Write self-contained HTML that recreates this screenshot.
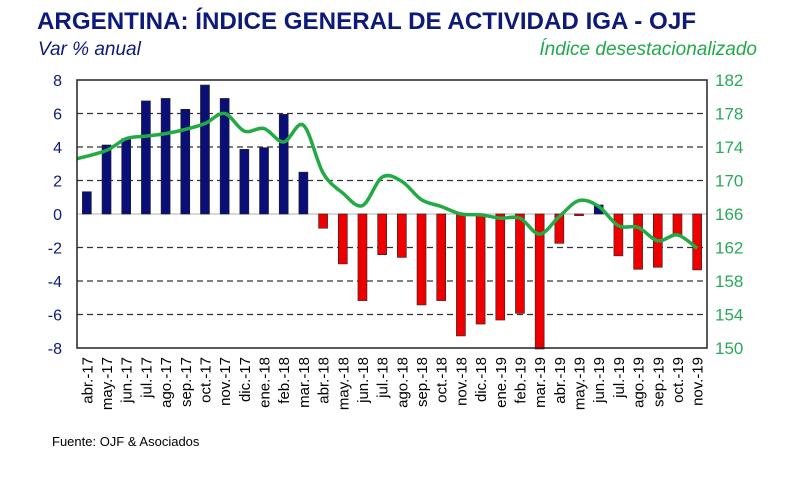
<!DOCTYPE html>
<html><head><meta charset="utf-8"><style>
body{margin:0;background:#fff;}
svg{display:block;font-family:"Liberation Sans",sans-serif;}
</style></head><body>
<svg width="800" height="479" viewBox="0 0 800 479" id="chart">
<text x="37" y="29" font-size="24" font-weight="bold" fill="#0d1a7a" textLength="659" lengthAdjust="spacingAndGlyphs">ARGENTINA: ÍNDICE GENERAL DE ACTIVIDAD IGA - OJF</text>
<text x="38" y="55" font-size="19" font-style="italic" fill="#0d1a7a">Var % anual</text>
<text x="757" y="55" font-size="19" font-style="italic" fill="#22aa4a" text-anchor="end">Índice desestacionalizado</text>
<text x="52" y="446" font-size="13" fill="#000">Fuente: OJF &amp; Asociados</text>
<g id="grid"></g><g id="bars"></g><g id="line"></g><g id="axes"></g>
</svg>
<script>
const categories=["abr.-17","may.-17","jun.-17","jul.-17","ago.-17","sep.-17","oct.-17","nov.-17","dic.-17","ene.-18","feb.-18","mar.-18","abr.-18","may.-18","jun.-18","jul.-18","ago.-18","sep.-18","oct.-18","nov.-18","dic.-18","ene.-19","feb.-19","mar.-19","abr.-19","may.-19","jun.-19","jul.-19","ago.-19","sep.-19","oct.-19","nov.-19"];
const varValues=[1.33,4.12,4.5,6.75,6.9,6.25,7.7,6.9,3.86,3.96,5.95,2.5,-0.85,-2.98,-5.17,-2.43,-2.59,-5.43,-5.17,-7.28,-6.57,-6.33,-5.93,-8.06,-1.75,-0.1,0.54,-2.5,-3.3,-3.18,-1.3,-3.34];
const indexValues=[172.6,173.6,175.0,175.3,175.6,176.1,176.8,178.0,175.9,176.2,174.6,176.6,170.9,168.5,167.0,170.4,169.9,167.7,166.9,166.0,165.9,165.5,165.5,163.6,165.7,167.6,166.9,164.6,164.4,162.8,163.5,161.9];
const leftTicks=[8,6,4,2,0,-2,-4,-6,-8];
const rightTicks=[182,178,174,170,166,162,158,154,150];
const NS="http://www.w3.org/2000/svg";
const L=77,R=707,T=80,B=348;
const n=categories.length,step=(R-L)/n;
const xC=i=>L+step*(i+0.5);
const yL=v=>T+(8-v)*(B-T)/16;
const yR=v=>T+(182-v)*(B-T)/32;
function mk(tag,attrs,parent){const e=document.createElementNS(NS,tag);for(const k in attrs)e.setAttribute(k,attrs[k]);parent.appendChild(e);return e;}
const grid=document.getElementById('grid'),bars=document.getElementById('bars'),line=document.getElementById('line'),axes=document.getElementById('axes');
leftTicks.forEach(t=>{
  if(t!==8&&t!==-8&&t!==0){const g=mk('line',{x1:L,x2:R,y1:yL(t),y2:yL(t),stroke:'#333','stroke-width':1.3,'stroke-dasharray':'6,4'},grid);
  
  }
  const tx=mk('text',{x:62,y:yL(t)+6,'font-size':16,'text-anchor':'end',fill:'#0d1a7a'},axes);tx.textContent=t;
  
  
});
const z=mk('line',{x1:L,x2:R,y1:yL(0),y2:yL(0),stroke:'#ccc','stroke-width':1.5},grid);


rightTicks.forEach(t=>{
  const tx=mk('text',{x:715,y:yR(t)+6,'font-size':17,fill:'#2aa85a'},axes);tx.textContent=t;
  
  
});
const fr=mk('rect',{x:L,y:T,width:R-L,height:B-T,fill:'none',stroke:'#222','stroke-width':1.5},axes);


const bw=9;
varValues.forEach((v,i)=>{
  const y0=yL(0),y1=yL(v);
  const r=mk('rect',{x:xC(i)-bw/2,y:Math.min(y0,y1),width:bw,height:Math.max(Math.abs(y1-y0),1),fill:v>=0?'#0a0f78':'#ee0000',stroke:'#222','stroke-width':0.6},bars);
  
  
  const tx=mk('text',{transform:`translate(${xC(i)+5.5},357) rotate(-90)`,'font-size':15,'text-anchor':'end',fill:'#000'},axes);
  tx.textContent=categories[i];
  
  
});
const pts=indexValues.map((v,i)=>[i===0?L:xC(i),yR(v)]);
let d='M'+pts[0][0]+','+pts[0][1];
for(let i=0;i<pts.length-1;i++){
  const p0=pts[Math.max(0,i-1)],p1=pts[i],p2=pts[i+1],p3=pts[Math.min(pts.length-1,i+2)];
  const c1=[p1[0]+(p2[0]-p0[0])/6,p1[1]+(p2[1]-p0[1])/6],c2=[p2[0]-(p3[0]-p1[0])/6,p2[1]-(p3[1]-p1[1])/6];
  d+=` C${c1[0]},${c1[1]} ${c2[0]},${c2[1]} ${p2[0]},${p2[1]}`;
}
const pl=mk('path',{d:d,fill:'none',stroke:'#22aa44','stroke-width':3.5,'stroke-linejoin':'round'},line);


</script>
</body></html>
